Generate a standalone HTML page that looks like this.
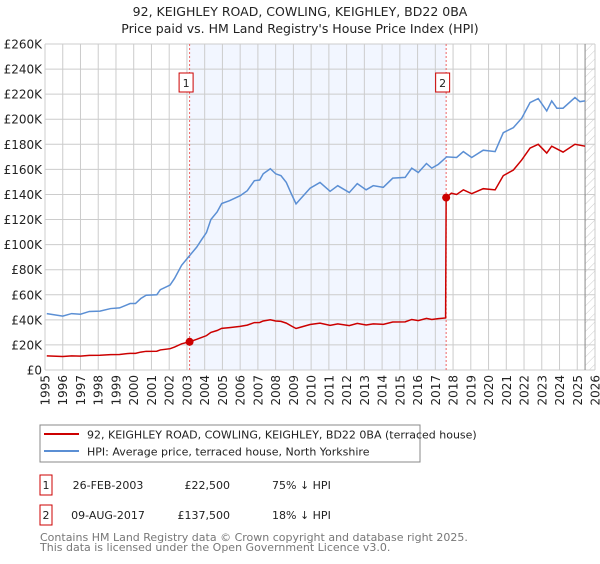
<!DOCTYPE html>
<html><head><meta charset="utf-8"><style>
body{margin:0;background:#fff;font-family:"DejaVu Sans","Liberation Sans",sans-serif;}
svg text{font-family:"DejaVu Sans","Liberation Sans",sans-serif;}
</style></head><body>
<svg id="chart" width="600" height="560" viewBox="0 0 600 560">
<defs><pattern id="hatch" width="6" height="6" patternUnits="userSpaceOnUse" patternTransform="rotate(45)"><line x1="0" y1="0" x2="0" y2="6" stroke="#ccc" stroke-width="1"/></pattern></defs>
<text x="300" y="16" text-anchor="middle" font-size="12.5" fill="#222">92, KEIGHLEY ROAD, COWLING, KEIGHLEY, BD22 0BA</text>
<text x="300" y="33" text-anchor="middle" font-size="12.5" fill="#222">Price paid vs. HM Land Registry's House Price Index (HPI)</text>
<g id="plot"></g>
<g>
<rect x="40" y="425" width="380" height="37" fill="#fff" stroke="#888"/>
<line x1="44" y1="434" x2="79" y2="434" stroke="#cc0000" stroke-width="2"/>
<text x="87" y="438.5" font-size="11" fill="#222">92, KEIGHLEY ROAD, COWLING, KEIGHLEY, BD22 0BA (terraced house)</text>
<line x1="44" y1="451" x2="79" y2="451" stroke="#5b8fd4" stroke-width="2"/>
<text x="87" y="455.5" font-size="11" fill="#222">HPI: Average price, terraced house, North Yorkshire</text>
</g>
<g font-size="11" fill="#222">
<rect x="40" y="475" width="12" height="20" fill="#fff" stroke="#cc0000"/>
<text x="46" y="489" text-anchor="middle">1</text>
<text x="108" y="489" text-anchor="middle">26-FEB-2003</text>
<text x="230" y="489" text-anchor="end">£22,500</text>
<text x="272" y="489">75% ↓ HPI</text>
<rect x="40" y="505" width="12" height="20" fill="#fff" stroke="#cc0000"/>
<text x="46" y="519" text-anchor="middle">2</text>
<text x="108" y="519" text-anchor="middle">09-AUG-2017</text>
<text x="230" y="519" text-anchor="end">£137,500</text>
<text x="272" y="519">18% ↓ HPI</text>
</g>
<text x="40" y="541" font-size="11" fill="#777">Contains HM Land Registry data © Crown copyright and database right 2025.</text>
<text x="40" y="551" font-size="11" fill="#777">This data is licensed under the Open Government Licence v3.0.</text>
</svg>
<script>
const hpiYears=[1995.1,1996.0,1996.5,1997.0,1997.5,1998.1,1998.7,1999.2,1999.8,2000.1,2000.4,2000.7,2001.3,2001.5,2002.05,2002.3,2002.7,2003.08,2003.55,2003.83,2004.1,2004.35,2004.7,2004.96,2005.4,2006.0,2006.4,2006.8,2007.1,2007.3,2007.7,2008.0,2008.3,2008.6,2008.9,2009.15,2009.37,2009.94,2010.5,2011.07,2011.5,2012.15,2012.6,2013.1,2013.5,2014.07,2014.6,2015.3,2015.67,2016.04,2016.5,2016.8,2017.17,2017.64,2018.2,2018.58,2019.05,2019.7,2020.37,2020.83,2021.4,2021.87,2022.34,2022.8,2023.28,2023.56,2023.85,2024.2,2024.87,2025.15,2025.44];
const hpiValues=[45,43,45,44.5,46.7,47,49,49.5,53,53,57,59.6,60,64,67.8,73,83.5,90,98,104,109.6,120,126,132.8,135,139,143,151,151.5,156.5,160.5,156.5,155,149.6,140,132.5,136,145,149.6,142.5,147,141.5,148.6,143.7,147,145.7,153,153.6,161,157.5,164.7,161,164,170,169.5,174.2,169.5,175.3,174.2,189.3,193.3,200.8,213.3,216.5,206.6,214.6,208.8,208.8,217.3,214,214.6];
const priceYears=[1995.1,1996.0,1996.5,1997.0,1997.5,1998.1,1998.7,1999.2,1999.8,2000.1,2000.4,2000.7,2001.3,2001.5,2002.05,2002.3,2002.7,2003.15,2003.55,2003.83,2004.1,2004.35,2004.7,2004.96,2005.4,2006.0,2006.4,2006.8,2007.1,2007.3,2007.7,2008.0,2008.3,2008.6,2008.9,2009.15,2009.37,2009.94,2010.5,2011.07,2011.5,2012.15,2012.6,2013.1,2013.5,2014.07,2014.6,2015.3,2015.67,2016.04,2016.5,2016.8,2017.17,2017.58,2017.61,2017.9,2018.2,2018.58,2019.05,2019.7,2020.37,2020.83,2021.4,2021.87,2022.34,2022.8,2023.28,2023.56,2024.2,2024.87,2025.44];
const priceValues=[11.3,10.8,11.3,11.1,11.7,11.8,12.3,12.4,13.3,13.3,14.3,14.9,15,16,17,18.3,20.9,22.5,24.5,26,27.4,30,31.5,33.2,33.8,34.8,35.8,37.8,37.9,39.1,40.1,39.1,38.8,37.4,35,33.1,34,36.3,37.4,35.6,36.8,35.4,37.2,35.9,36.8,36.4,38.3,38.4,40.3,39.4,41.2,40.3,41,41.5,137.5,141,140,143.7,140.6,144.6,143.7,155,159.5,167.5,177,180,173,178.5,173.8,180,178.5];
const sales=[{n:"1",year:2003.15,value:22.5},{n:"2",year:2017.61,value:137.5}];
const yTicks=[0,20,40,60,80,100,120,140,160,180,200,220,240,260];
const yTickLabels=["£0","£20K","£40K","£60K","£80K","£100K","£120K","£140K","£160K","£180K","£200K","£220K","£240K","£260K"];
const xTicks=[1995,1996,1997,1998,1999,2000,2001,2002,2003,2004,2005,2006,2007,2008,2009,2010,2011,2012,2013,2014,2015,2016,2017,2018,2019,2020,2021,2022,2023,2024,2025,2026];
const dataEnd=2025.44;

const L=45,R=595,T=44,B=370;
const x=y=>L+(y-1995)/(2026-1995)*(R-L);
const yv=v=>B-v/260*(B-T);
const NS="http://www.w3.org/2000/svg";
const g=document.getElementById('plot');
function mk(tag,attrs,parent){const e=document.createElementNS(NS,tag);for(const k in attrs)e.setAttribute(k,attrs[k]);(parent||g).appendChild(e);return e;}

let e;
e=mk('rect',{x:x(sales[0].year),y:T,width:x(sales[1].year)-x(sales[0].year),height:B-T,fill:'#f2f6ff'});


e=mk('rect',{x:x(dataEnd),y:T,width:R-x(dataEnd),height:B-T,fill:'url(#hatch)'});


yTicks.forEach((t,i)=>{
  e=mk('line',{x1:L,x2:R,y1:yv(t),y2:yv(t),stroke:'#cccccc','stroke-width':1});
  
  
  e=mk('text',{x:L-3,y:yv(t)+4.5,'text-anchor':'end','font-size':12,fill:'#222'});
  e.textContent=yTickLabels[i];
  
  
});
xTicks.forEach(t=>{
  e=mk('line',{x1:x(t),x2:x(t),y1:T,y2:B,stroke:'#cccccc','stroke-width':1});
  
  
  const tx=x(t)+4.5,ty=B+5;
  e=mk('text',{x:tx,y:ty,'text-anchor':'end','font-size':12,fill:'#222',transform:`rotate(-90 ${tx} ${ty})`});
  e.textContent=t;
  
  
});
e=mk('line',{x1:x(dataEnd),x2:x(dataEnd),y1:T,y2:B,stroke:'#888','stroke-width':1});


sales.forEach(s=>{
  e=mk('line',{x1:x(s.year),x2:x(s.year),y1:T,y2:B,stroke:'#ee6666','stroke-width':1,'stroke-dasharray':'2,2'});
  
  
});
e=mk('polyline',{points:hpiYears.map((a,i)=>x(a)+','+yv(hpiValues[i])).join(' '),fill:'none',stroke:'#5b8fd4','stroke-width':1.5});


e=mk('polyline',{points:priceYears.map((a,i)=>x(a)+','+yv(priceValues[i])).join(' '),fill:'none',stroke:'#cc0000','stroke-width':1.5});


sales.forEach(s=>{
  e=mk('circle',{cx:x(s.year),cy:yv(s.value),r:4,fill:'#cc0000'});
  
  
  const bx=x(s.year)-3.5;
  e=mk('rect',{x:bx-7,y:73,width:14,height:19,fill:'#fff',stroke:'#cc0000'});
  
  
  e=mk('text',{x:bx,y:87,'text-anchor':'middle','font-size':11,fill:'#222'});
  e.textContent=s.n;
  
  
});
</script>
</body></html>
